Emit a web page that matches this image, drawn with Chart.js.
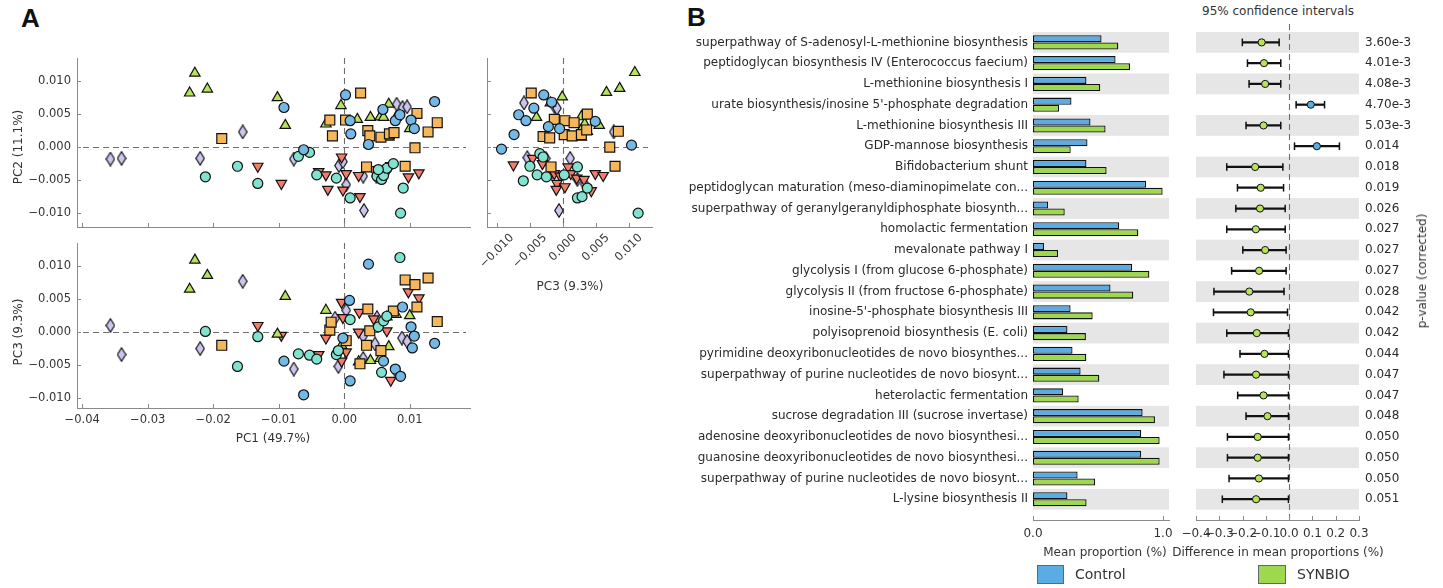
<!DOCTYPE html>
<html><head><meta charset="utf-8">
<script src="https://cdn.jsdelivr.net/npm/chart.js@4.4.1/dist/chart.umd.min.js"></script>
<style>
body{margin:0;background:#fff;width:1443px;height:588px;overflow:hidden;position:relative;font-family:"DejaVu Sans",sans-serif;color:#333}
canvas{position:absolute}
.t{position:absolute;white-space:nowrap;line-height:1;font-size:12px;transform:translate(-50%,-50%);color:#333}
.r{transform:translate(-50%,-50%) rotate(-90deg)}
.p{position:absolute;font-family:"Liberation Sans",Arial,sans-serif;font-weight:bold;font-size:26px;line-height:26px;color:#111}
.box{position:absolute;border:1px solid #666}
.lg{position:absolute;font-size:14px;line-height:1;color:#333}
</style></head><body>
<div class="p" style="left:21px;top:5px">A</div>
<div class="p" style="left:687px;top:4px">B</div>

<canvas id="cA1" width="480" height="200" style="left:0px;top:40px"></canvas>
<canvas id="cA2" width="480" height="200" style="left:0px;top:235px"></canvas>
<canvas id="cA3" width="180" height="230" style="left:475px;top:40px"></canvas>
<canvas id="cB1" width="495" height="530" style="left:680px;top:20px"></canvas>
<canvas id="cB2" width="263" height="530" style="left:1180px;top:20px"></canvas>

<div class="t r" style="left:18px;top:147px">PC2 (11.1%)</div>
<div class="t r" style="left:18px;top:332px">PC3 (9.3%)</div>
<div class="t" style="left:273px;top:438px">PC1 (49.7%)</div>
<div class="t" style="left:570px;top:286px">PC3 (9.3%)</div>
<div class="t" style="left:1278px;top:11px">95% confidence intervals</div>
<div class="t" style="left:1105px;top:552px">Mean proportion (%)</div>
<div class="t" style="left:1278px;top:552px">Difference in mean proportions (%)</div>
<div class="t r" style="left:1422px;top:271px">p-value (corrected)</div>

<div class="box" style="left:1037px;top:565px;width:25px;height:17px;background:#5aace3"></div>
<div class="lg" style="left:1075px;top:567px">Control</div>
<div class="box" style="left:1258px;top:565px;width:26px;height:17px;background:#9ed84f"></div>
<div class="lg" style="left:1297px;top:567px">SYNBIO</div>

<script>
// ---------------- Panel A data (PCoA coordinates) ----------------
// PC1 vs PC2
const pc12_blueCircle = [[-0.0092,0.0060],[0.0002,0.0079],[0.0009,0.0040],[0.0010,0.0020],[0.0037,0.0004],[0.0059,0.0057],[0.0078,0.0040],[0.0085,0.0049],[0.0102,0.0041],[0.0107,0.0028],[0.0138,0.0069],[-0.0062,-0.0004]];
const pc12_tealCircle = [[-0.0212,-0.0045],[-0.0163,-0.0029],[-0.0132,-0.0055],[-0.0053,-0.0008],[-0.0042,-0.0042],[-0.0012,-0.0047],[0.0009,-0.0077],[0.0050,-0.0044],[0.0057,-0.0049],[0.0060,-0.0043],[0.0065,-0.0032],[0.0075,-0.0025],[0.0090,-0.0062],[0.0086,-0.0100],[0.0052,-0.0034],[-0.0070,-0.0014]];
const pc12_orangeSquare = [[-0.0187,0.0013],[-0.0022,0.0041],[-0.0018,0.0017],[0.0002,0.0041],[0.0025,0.0082],[0.0036,0.0025],[0.0039,0.0017],[0.0056,0.0015],[0.0069,0.0020],[0.0076,0.0022],[0.0111,0.0051],[0.0128,0.0023],[0.0142,0.0037],[0.0108,-0.0001],[0.0034,-0.0030],[0.0093,-0.0029]];
const pc12_greenTriangle = [[-0.0228,0.0112],[-0.0236,0.0082],[-0.0209,0.0088],[-0.0102,0.0075],[-0.0090,0.0033],[-0.0005,0.0063],[-0.0028,0.0035],[0.0020,0.0042],[0.0040,0.0045],[0.0055,0.0046],[0.0060,0.0045],[0.0068,0.0065],[0.0079,0.0045],[0.0068,0.0015],[0.0100,0.0028]];
const pc12_redTriangle = [[-0.0132,-0.0029],[-0.0096,-0.0055],[-0.0039,-0.0037],[-0.0028,-0.0042],[-0.0025,-0.0064],[-0.0004,-0.0015],[-0.0002,-0.0065],[0.0003,-0.0040],[0.0022,-0.0043],[0.0024,-0.0075],[0.0045,-0.0034],[0.0065,-0.0037],[0.0071,-0.0028],[0.0098,-0.0045],[0.0114,-0.0039]];
const pc12_diamond = [[-0.0357,-0.0018],[-0.0340,-0.0017],[-0.0220,-0.0017],[-0.0155,0.0023],[-0.0077,-0.0018],[-0.0008,-0.0028],[-0.0002,-0.0022],[0.0003,-0.0057],[0.0029,-0.0044],[0.0030,-0.0096],[0.0049,-0.0044],[0.0080,0.0065],[0.0089,0.0060],[0.0096,0.0061],[0.0054,-0.0039]];
// PC1 vs PC3
const pc13_blueCircle = [[-0.0092,-0.0044],[-0.0062,-0.0095],[0.0008,0.0048],[0.0009,-0.0074],[0.0037,0.0103],[0.0060,-0.0044],[0.0078,-0.0056],[0.0086,-0.0067],[0.0089,0.0038],[0.0102,0.0008],[0.0107,-0.0006],[0.0104,-0.0024],[0.0138,-0.0017],[-0.0002,-0.0009]];
const pc13_tealCircle = [[-0.0212,0.0001],[-0.0163,-0.0052],[-0.0132,-0.0007],[-0.0070,-0.0033],[-0.0053,-0.0035],[-0.0042,-0.0041],[-0.0012,-0.0034],[0.0009,0.0019],[0.0052,0.0008],[0.0057,-0.0061],[0.0060,0.0017],[0.0085,0.0113],[-0.0009,-0.0028],[0.0065,0.0024]];
const pc13_orangeSquare = [[-0.0187,-0.0020],[-0.0022,0.0003],[-0.0020,0.0015],[0.0003,-0.0013],[0.0036,0.0035],[0.0039,0.0002],[0.0034,-0.0020],[0.0056,-0.0028],[0.0075,0.0032],[0.0093,0.0079],[0.0108,0.0072],[0.0111,0.0038],[0.0128,0.0082],[0.0142,0.0016],[0.0024,-0.0048]];
const pc13_greenTriangle = [[-0.0228,0.0109],[-0.0209,0.0086],[-0.0236,0.0065],[-0.0090,0.0054],[-0.0102,-0.0003],[-0.0028,0.0033],[-0.0004,-0.0020],[0.0022,-0.0045],[0.0040,-0.0043],[0.0055,-0.0040],[0.0068,-0.0022],[0.0079,0.0027],[0.0100,0.0025],[0.0065,0.0023]];
const pc13_redTriangle = [[-0.0132,0.0010],[-0.0096,-0.0005],[-0.0039,-0.0034],[-0.0028,-0.0009],[-0.0004,0.0045],[-0.0002,0.0022],[0.0003,-0.0030],[-0.0004,-0.0044],[0.0023,0.0030],[0.0022,0.0000],[0.0045,0.0020],[0.0065,0.0002],[0.0071,-0.0073],[0.0098,0.0061],[0.0114,0.0052]];
const pc13_diamond = [[-0.0357,0.0010],[-0.0340,-0.0034],[-0.0220,-0.0025],[-0.0155,0.0077],[-0.0077,-0.0056],[-0.0014,0.0021],[-0.0009,-0.0052],[0.0003,0.0033],[0.0029,-0.0006],[0.0029,-0.0040],[0.0047,-0.0018],[0.0088,-0.0009],[0.0096,-0.0014],[0.0080,-0.0061],[0.0050,0.0022]];
// PC3 vs PC2
const pc32_blueCircle = [[-0.0093,-0.0003],[-0.0074,0.0019],[-0.0067,0.0049],[-0.0056,0.0040],[-0.0044,0.0059],[-0.0029,0.0079],[-0.0022,0.0031],[-0.0017,0.0068],[-0.0005,0.0028],[0.0049,0.0039],[0.0104,0.0003]];
const pc32_tealCircle = [[-0.0060,-0.0051],[-0.0050,-0.0029],[-0.0039,-0.0042],[-0.0035,-0.0010],[-0.0030,-0.0015],[-0.0025,-0.0045],[0.0022,-0.0030],[0.0022,-0.0077],[0.0029,-0.0075],[0.0037,-0.0062],[0.0114,-0.0100],[0.0002,-0.0042]];
const pc32_orangeSquare = [[-0.0048,0.0082],[-0.0013,0.0042],[0.0003,0.0040],[0.0017,0.0037],[0.0037,0.0050],[-0.0030,0.0016],[-0.0020,0.0014],[0.0002,0.0019],[0.0014,0.0017],[0.0028,0.0019],[0.0084,0.0024],[0.0071,0.0000],[0.0079,-0.0029],[-0.0018,-0.0030],[0.0036,0.0026]];
const pc32_greenTriangle = [[0.0109,0.0113],[0.0086,0.0089],[0.0066,0.0083],[-0.0001,0.0076],[-0.0040,0.0045],[0.0028,0.0046],[0.0033,0.0035],[0.0027,0.0025],[0.0055,0.0033],[0.0037,0.0024],[0.0028,0.0015],[-0.0019,0.0067]];
const pc32_redTriangle = [[-0.0075,-0.0027],[-0.0046,-0.0017],[-0.0031,-0.0025],[-0.0013,-0.0040],[-0.0004,-0.0044],[-0.0009,-0.0055],[-0.0010,-0.0064],[0.0008,-0.0030],[0.0012,-0.0040],[0.0021,-0.0047],[0.0032,-0.0049],[0.0043,-0.0066],[0.0049,-0.0040],[0.0061,-0.0043],[0.0003,-0.0060]];
const pc32_diamond = [[-0.0059,0.0067],[-0.0013,0.0062],[-0.0009,0.0059],[0.0077,0.0023],[-0.0054,-0.0016],[-0.0026,-0.0017],[-0.0017,-0.0038],[0.0011,-0.0017],[0.0022,-0.0049],[0.0033,-0.0056],[-0.0006,-0.0096]];

// tick values
const pcSmallTicks = [-0.010,-0.005,0.000,0.005,0.010];
const pc1Ticks = [-0.04,-0.03,-0.02,-0.01,0.00,0.01];

// ---------------- Panel B data ----------------
const pathways = [
  "superpathway of S-adenosyl-L-methionine biosynthesis",
  "peptidoglycan biosynthesis IV (Enterococcus faecium)",
  "L-methionine biosynthesis I",
  "urate biosynthesis/inosine 5'-phosphate degradation",
  "L-methionine biosynthesis III",
  "GDP-mannose biosynthesis",
  "Bifidobacterium shunt",
  "peptidoglycan maturation (meso-diaminopimelate con...",
  "superpathway of geranylgeranyldiphosphate biosynth...",
  "homolactic fermentation",
  "mevalonate pathway I",
  "glycolysis I (from glucose 6-phosphate)",
  "glycolysis II (from fructose 6-phosphate)",
  "inosine-5'-phosphate biosynthesis III",
  "polyisoprenoid biosynthesis (E. coli)",
  "pyrimidine deoxyribonucleotides de novo biosynthes...",
  "superpathway of purine nucleotides de novo biosynt...",
  "heterolactic fermentation",
  "sucrose degradation III (sucrose invertase)",
  "adenosine deoxyribonucleotides de novo biosynthesi...",
  "guanosine deoxyribonucleotides de novo biosynthesi...",
  "superpathway of purine nucleotides de novo biosynt...",
  "L-lysine biosynthesis II"
];
const controlMean = [0.527,0.635,0.411,0.296,0.442,0.419,0.411,0.869,0.116,0.663,0.085,0.763,0.596,0.289,0.265,0.304,0.366,0.232,0.843,0.832,0.832,0.343,0.265];
const synbioMean  = [0.656,0.746,0.517,0.200,0.558,0.290,0.566,0.997,0.244,0.810,0.193,0.895,0.771,0.459,0.407,0.410,0.510,0.351,0.938,0.974,0.974,0.477,0.412];
const diffMean = [-0.118,-0.108,-0.103,0.093,-0.110,0.119,-0.146,-0.122,-0.125,-0.143,-0.103,-0.129,-0.171,-0.165,-0.139,-0.106,-0.142,-0.110,-0.093,-0.135,-0.135,-0.130,-0.142];
const ciLow  = [-0.201,-0.179,-0.172,0.030,-0.185,0.023,-0.268,-0.222,-0.229,-0.268,-0.199,-0.247,-0.323,-0.325,-0.268,-0.211,-0.280,-0.221,-0.185,-0.265,-0.265,-0.258,-0.287];
const ciHigh = [-0.043,-0.036,-0.036,0.152,-0.036,0.216,-0.027,-0.024,-0.017,-0.017,-0.013,-0.013,-0.022,-0.007,-0.003,-0.003,-0.003,-0.003,-0.003,-0.003,-0.003,-0.003,-0.003];
const pValues = ["3.60e-3","4.01e-3","4.08e-3","4.70e-3","5.03e-3","0.014","0.018","0.019","0.026","0.027","0.027","0.027","0.028","0.042","0.042","0.044","0.047","0.047","0.048","0.050","0.050","0.050","0.051"];
const meanTicks = [0.0, 1.0];
const diffTicks = [-0.4,-0.3,-0.2,-0.1,0.0,0.1,0.2,0.3];

// ---------------- styling ----------------
const FONT = "'DejaVu Sans', sans-serif";
const BLUE_B = '#5aace3', GREEN_B = '#9ed84f';
const EDGE = '#111';
const SPINE = '#8a8a8a';

function fmt(v, d){ const a = Math.abs(v) < 1e-12 ? 0 : v; return (a < 0 ? '\u2212' : '') + Math.abs(a).toFixed(d); }
function fixAxis(size, horiz){
  return s => { if (horiz) s.height = size; else s.width = size;
    s.paddingLeft = 0; s.paddingRight = 0; s.paddingTop = 0; s.paddingBottom = 0; };
}
function setTicks(vals){ return s => { s.ticks = vals.map(v => ({value: v})); }; }

// thin diamond marker
function thinDiamond(){
  const c = document.createElement('canvas'); c.width = 10; c.height = 15;
  const g = c.getContext('2d');
  g.beginPath(); g.moveTo(5,0.8); g.lineTo(9.2,7.5); g.lineTo(5,14.2); g.lineTo(0.8,7.5); g.closePath();
  g.fillStyle = '#cbc6ef'; g.fill(); g.lineWidth = 1.2; g.strokeStyle = EDGE; g.stroke();
  return c;
}
const DIAMOND = thinDiamond();

const deco = {
  id: 'deco',
  beforeDatasetsDraw(chart, args, o){
    const ctx = chart.ctx, ca = chart.chartArea, xs = chart.scales.x, ys = chart.scales.y;
    ctx.save();
    if (o.bands){
      ctx.fillStyle = '#e6e6e6';
      for (let i = 0; i < o.bands; i += 2){
        const a = ys.getPixelForValue(i - 0.5), b = ys.getPixelForValue(i + 0.5);
        ctx.fillRect(ca.left, Math.min(a,b), ca.right - ca.left, Math.abs(b - a));
      }
    }
    ctx.setLineDash([6,4]); ctx.strokeStyle = '#6e6e6e'; ctx.lineWidth = 1.1;
    if (o.zeroX){
      const px = Math.round(xs.getPixelForValue(0)) + 0.5;
      ctx.beginPath(); ctx.moveTo(px, ca.top - (o.zeroXExt || 0)); ctx.lineTo(px, ca.bottom); ctx.stroke();
    }
    if (o.zeroY){
      const py = Math.round(ys.getPixelForValue(0)) + 0.5;
      ctx.beginPath(); ctx.moveTo(ca.left + 6, py); ctx.lineTo(ca.right - 4, py); ctx.stroke();
    }
    ctx.setLineDash([]); ctx.strokeStyle = SPINE; ctx.lineWidth = 1;
    if (o.tickX){
      xs.ticks.forEach(t => { const px = Math.round(xs.getPixelForValue(t.value)) + 0.5;
        ctx.beginPath(); ctx.moveTo(px, ca.bottom); ctx.lineTo(px, ca.bottom - o.tickX); ctx.stroke(); });
    }
    if (o.tickY){
      ys.ticks.forEach(t => { const py = Math.round(ys.getPixelForValue(t.value)) + 0.5;
        ctx.beginPath(); ctx.moveTo(ca.left, py); ctx.lineTo(ca.left + o.tickY, py); ctx.stroke(); });
    }
    ctx.restore();
  },
  afterDraw(chart, args, o){
    // matplotlib-style 45° x tick labels, centred under each tick
    if (!o.rotLabels) return;
    const ctx = chart.ctx, xs = chart.scales.x, ca = chart.chartArea, r = o.rotLabels;
    ctx.save();
    ctx.font = r.size + 'px ' + FONT; ctx.fillStyle = '#333';
    ctx.textAlign = 'center'; ctx.textBaseline = 'middle';
    const s = Math.SQRT1_2;
    xs.ticks.forEach(t => {
      const txt = fmt(t.value, r.digits);
      const w = ctx.measureText(txt).width, h = r.size;
      const bh = (w + h) * s;
      const cx = xs.getPixelForValue(t.value), cy = ca.bottom + r.pad + bh / 2;
      ctx.save(); ctx.translate(cx, cy); ctx.rotate(-Math.PI / 4); ctx.fillText(txt, 0, 0); ctx.restore();
    });
    ctx.restore();
  }
};

function groupsOf(blue, teal, orange, green, red, diamond){
  return [
    {data: blue,   style: 'circle',   r: 5,   color: '#74b9e6'},
    {data: teal,   style: 'circle',   r: 5,   color: '#80e2cf'},
    {data: orange, style: 'rect',     r: 7,   color: '#f6b65b'},
    {data: green,  style: 'triangle', r: 6,   color: '#b7e35c'},
    {data: red,    style: 'triangle', r: 6,   color: '#f37d6a', rot: 180},
    {data: diamond,style: DIAMOND,    r: 7,   color: '#cbc6ef'}
  ];
}

function scatterPanel(id, groups, c){
  const datasets = groups.map(g => ({
    data: g.data.map(p => ({x: p[0], y: p[1]})),
    pointStyle: g.style, pointRadius: g.r, pointRotation: g.rot || 0,
    backgroundColor: g.color, borderColor: EDGE, borderWidth: 1.2, clip: false
  }));
  new Chart(document.getElementById(id), {
    type: 'scatter',
    data: {datasets},
    options: {
      responsive: false, animation: false, events: [],
      layout: {autoPadding: false, padding: c.padding},
      plugins: {legend: {display: false}, tooltip: {enabled: false},
        deco: {zeroX: true, zeroY: true, tickX: 4, tickY: 4, rotLabels: c.rotLabels || null}},
      scales: {
        x: {type: 'linear', min: c.xmin, max: c.xmax, afterBuildTicks: setTicks(c.xticks), afterFit: fixAxis(c.xh, true),
            grid: {display: false, drawTicks: false}, border: {display: true, color: SPINE, width: 1},
            ticks: {display: c.xlabels, callback: v => fmt(v, c.xd), font: {family: FONT, size: 11.5}, color: '#333',
                    padding: 5, maxRotation: 0, autoSkip: false}},
        y: {type: 'linear', min: c.ymin, max: c.ymax, afterBuildTicks: setTicks(c.yticks), afterFit: fixAxis(c.yw, false),
            grid: {display: false, drawTicks: false}, border: {display: true, color: SPINE, width: 1},
            ticks: {display: c.ylabels, callback: v => fmt(v, 3), font: {family: FONT, size: 11.5}, color: '#333',
                    padding: 6, autoSkip: false}}
      }
    },
    plugins: [deco]
  });
}

scatterPanel('cA1', groupsOf(pc12_blueCircle, pc12_tealCircle, pc12_orangeSquare, pc12_greenTriangle, pc12_redTriangle, pc12_diamond),
  {padding: {top: 18, right: 10, left: 0, bottom: 0}, xmin: -0.0408, xmax: 0.0192, ymin: -0.0121, ymax: 0.0135,
   xticks: pc1Ticks, yticks: pcSmallTicks, xh: 13, yw: 77, xlabels: false, ylabels: true, xd: 2});
scatterPanel('cA2', groupsOf(pc13_blueCircle, pc13_tealCircle, pc13_orangeSquare, pc13_greenTriangle, pc13_redTriangle, pc13_diamond),
  {padding: {top: 8, right: 10, left: 0, bottom: 0}, xmin: -0.0408, xmax: 0.0192, ymin: -0.0115, ymax: 0.0135,
   xticks: pc1Ticks, yticks: pcSmallTicks, xh: 27, yw: 77, xlabels: true, ylabels: true, xd: 2});
scatterPanel('cA3', groupsOf(pc32_blueCircle, pc32_tealCircle, pc32_orangeSquare, pc32_greenTriangle, pc32_redTriangle, pc32_diamond),
  {padding: {top: 18, right: 3, left: 12, bottom: 0}, xmin: -0.0115, xmax: 0.0135, ymin: -0.0121, ymax: 0.0135,
   xticks: pcSmallTicks, yticks: pcSmallTicks, xh: 43, yw: 0, xlabels: false, ylabels: false, xd: 3,
   rotLabels: {size: 11.5, digits: 3, pad: 5}});

// ---- Panel B: mean proportions ----
new Chart(document.getElementById('cB1'), {
  type: 'bar',
  data: {datasets: [
    {label: 'Control', data: controlMean.map((v, i) => ({x: v, y: i})), backgroundColor: BLUE_B, borderColor: EDGE,
     borderWidth: 1.3, borderSkipped: false, categoryPercentage: 0.68, barPercentage: 1},
    {label: 'SYNBIO', data: synbioMean.map((v, i) => ({x: v, y: i})), backgroundColor: GREEN_B, borderColor: EDGE,
     borderWidth: 1.3, borderSkipped: false, categoryPercentage: 0.68, barPercentage: 1}
  ]},
  options: {
    indexAxis: 'y', responsive: false, animation: false, events: [],
    layout: {autoPadding: false, padding: {top: 12, right: 6, left: 0, bottom: 0}},
    plugins: {legend: {display: false}, tooltip: {enabled: false}, deco: {bands: pathways.length, tickX: 4}},
    scales: {
      x: {type: 'linear', min: 0, max: 1.046, afterBuildTicks: setTicks(meanTicks), afterFit: fixAxis(30, true),
          grid: {display: false, drawTicks: false}, border: {display: true, color: SPINE, width: 1},
          ticks: {callback: v => v.toFixed(1), font: {family: FONT, size: 12}, color: '#333', padding: 7, autoSkip: false, maxRotation: 0}},
      y: {type: 'linear', offset: false, reverse: true, min: -0.5, max: 23, afterBuildTicks: setTicks(pathways.map((_, i) => i)),
          afterFit: fixAxis(353, false), grid: {display: false, drawTicks: false, offset: false}, border: {display: false},
          ticks: {callback: v => pathways[v], font: {family: FONT, size: 12}, color: '#2a2a2a', padding: 5, autoSkip: false}}
    }
  },
  plugins: [deco]
});

// ---- Panel B: difference with 95% CI ----
new Chart(document.getElementById('cB2'), {
  type: 'scatter',
  data: {datasets: [
    {type: 'bar', indexAxis: 'y', data: ciLow.map((lo, i) => ({x: [lo, ciHigh[i]], y: i})), backgroundColor: EDGE,
     borderWidth: 0, barThickness: 1.6, order: 3},
    {data: ciLow.map((v, i) => ({x: v, y: i})), pointStyle: 'line', pointRotation: 90, pointRadius: 3.8,
     borderColor: EDGE, borderWidth: 1.5, order: 2, clip: false},
    {data: ciHigh.map((v, i) => ({x: v, y: i})), pointStyle: 'line', pointRotation: 90, pointRadius: 3.8,
     borderColor: EDGE, borderWidth: 1.5, order: 2, clip: false},
    {data: diffMean.map((v, i) => ({x: v, y: i})), pointStyle: 'circle', pointRadius: 3.6,
     backgroundColor: diffMean.map(v => v > 0 ? BLUE_B : '#b7e35c'), borderColor: EDGE, borderWidth: 1, order: 1, clip: false}
  ]},
  options: {
    responsive: false, animation: false, events: [],
    layout: {autoPadding: false, padding: {top: 12, right: 0, left: 16, bottom: 0}},
    plugins: {legend: {display: false}, tooltip: {enabled: false},
      deco: {bands: pathways.length, tickX: 4, zeroX: true, zeroXExt: 8}},
    scales: {
      x: {type: 'linear', offset: false, min: -0.4, max: 0.3, afterBuildTicks: setTicks(diffTicks), afterFit: fixAxis(30, true),
          grid: {display: false, drawTicks: false, offset: false}, border: {display: true, color: SPINE, width: 1},
          ticks: {callback: v => fmt(v, 1), font: {family: FONT, size: 12}, color: '#333', padding: 7, autoSkip: false, maxRotation: 0}},
      y: {type: 'linear', offset: false, position: 'right', reverse: true, min: -0.5, max: 23, afterBuildTicks: setTicks(pValues.map((_, i) => i)),
          afterFit: fixAxis(84, false), grid: {display: false, drawTicks: false, offset: false}, border: {display: false},
          ticks: {callback: v => pValues[v], font: {family: FONT, size: 12}, color: '#2a2a2a', padding: 6, autoSkip: false}}
    }
  },
  plugins: [deco]
});
</script>
</body></html>
